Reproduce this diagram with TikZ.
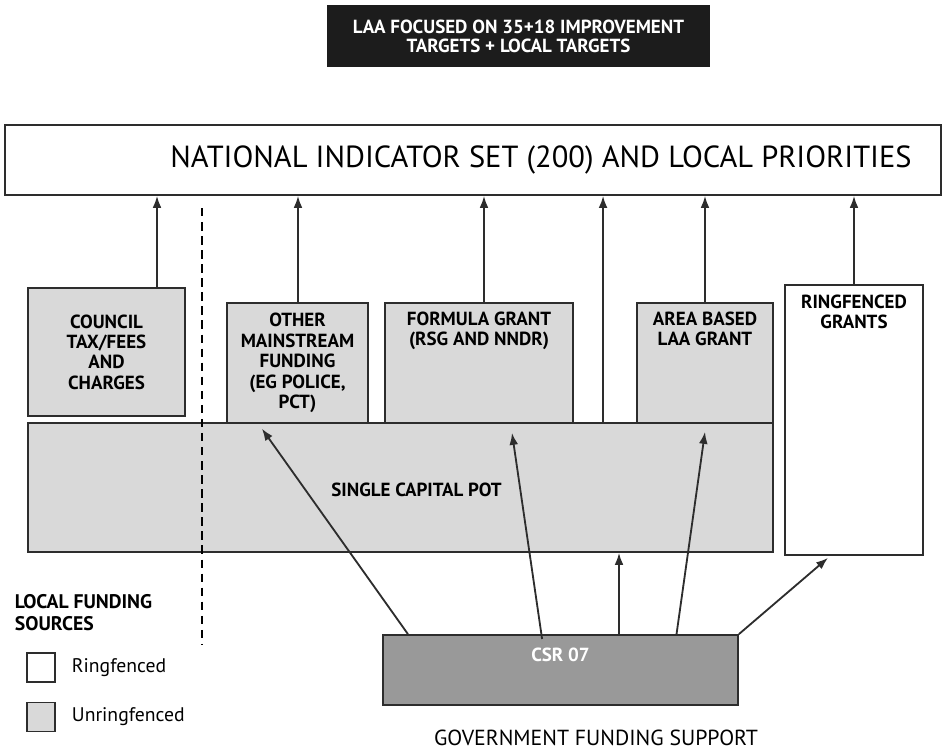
\documentclass[tikz,border=0pt]{standalone}
\usepackage{fontspec}
\setmainfont{PT Sans}
\usepackage{tikz}
\usetikzlibrary{arrows.meta,positioning,calc}
\definecolor{fgGrey}   {RGB}{217,217,217}
\definecolor{fgGreyD}  {RGB}{153,153,153}
\definecolor{fgBlack}  {RGB}{ 28, 28, 28}
\definecolor{fgLine}   {RGB}{ 45, 45, 45}

\begin{document}
\begin{tikzpicture}[
  x=0.025cm, y=-0.025cm,
  >={Latex[length=3mm,width=2.2mm]},
  every node/.style={font=\fontsize{13.5}{14.5}\selectfont\bfseries},
  fund/.style ={draw=fgLine,fill=fgGrey,line width=1.2pt,align=center,
                inner sep=0pt},
  ring/.style ={draw=fgLine,fill=white,line width=1.2pt,align=center,
                inner sep=0pt},
  boxtxt/.style={anchor=north,align=center,yshift=-3.5pt},
  up/.style   ={->,line width=1.3pt,fgLine}
]
\useasboundingbox (0,0) rectangle (943,750);

\node[fill=fgBlack,text=white,minimum width=9.575cm,minimum height=1.55cm,
      align=center,font=\fontsize{13.5}{13.5}\selectfont\bfseries]
  (laa) at (518.5,36) {LAA FOCUSED ON 35+18 IMPROVEMENT\\TARGETS + LOCAL TARGETS};

\node[ring,minimum width=23.4cm,minimum height=1.75cm] (nis) at (473,160) {};
\node[font=\fontsize{21.7}{24}\selectfont] at ([xshift=1.7cm]nis.center)
  {NATIONAL INDICATOR SET (200) AND LOCAL PRIORITIES};

\node[fund,minimum width=3.925cm,minimum height=3.2cm] (ctax) at (106.5,352)
  {COUNCIL\\TAX/FEES\\AND\\CHARGES};
\node[fund,minimum width=3.525cm,minimum height=3cm] (other) at (297.5,363)
  {OTHER\\MAINSTREAM\\FUNDING\\(EG POLICE,\\PCT)};
\node[fund,minimum width=4.7cm,minimum height=3cm] (formula) at (479,363) {};
\node[boxtxt] at (formula.north) {FORMULA GRANT\\(RSG AND NNDR)};
\node[fund,minimum width=3.4cm,minimum height=3cm] (area) at (705,363) {};
\node[boxtxt] at (area.north) {AREA BASED\\LAA GRANT};
\node[ring,minimum width=3.45cm,minimum height=6.75cm] (rgrant) at (854,420) {};
\node[boxtxt,yshift=-0.5pt] at (rgrant.north) {RINGFENCED\\GRANTS};

\node[fund,minimum width=18.625cm,minimum height=3.225cm] (pot) at (400.5,487.5) {};
\node at ([xshift=0.4cm,yshift=-0.05cm]pot.center) {SINGLE CAPITAL POT};

\node[fund,fill=fgGreyD,minimum width=8.875cm,minimum height=1.75cm] (csr) at (560.5,670) {};
\node[boxtxt,text=white,yshift=-3pt] at (csr.north) {CSR 07};

\node[font=\fontsize{15.5}{17}\selectfont] (gov) at (596,738) {GOVERNMENT FUNDING SUPPORT};

% legend
\node[anchor=west,align=left,font=\fontsize{14}{15.5}\selectfont\bfseries]
  (lfs) at (10,613) {LOCAL FUNDING\\SOURCES};
\node[ring,line width=1pt,minimum width=0.7cm,minimum height=0.725cm] (keyr) at (41,667.5) {};
\node[right=8pt of keyr,font=\fontsize{14}{15}\selectfont] (keyrt) {Ringfenced};
\node[fund,line width=1pt,minimum width=0.7cm,minimum height=0.725cm] (keyu) at (41,717) {};
\node[right=8pt of keyu,font=\fontsize{14}{15}\selectfont] (keyut) {Unringfenced};

% local / government divide
\draw[line width=1pt,dash pattern=on 6pt off 4pt] (202,208) -- (202,645);

% up to the indicator set
\foreach \b/\s in {ctax/1.2625cm,other/0.0125cm,formula/0.125cm,area/0cm,rgrant/0cm}
  \draw[up] ([xshift=\s]\b.north) -- ([xshift=\s]\b.north |- nis.south);
\coordinate (potup) at ([xshift=5.0625cm]pot.north);
\draw[up] (potup) -- (potup |- nis.south);

% csr 07 flows
\draw[up] ([xshift=-3.8125cm]csr.north) -- ([xshift=-0.89cm,yshift=-0.12cm]other.south);
\draw[up] ([xshift=-0.46cm,yshift=-0.12cm]csr.north) -- ([xshift=0.825cm,yshift=-0.225cm]formula.south);
\coordinate (csrup) at ([xshift=1.4625cm]csr.north);
\draw[up] (csrup) -- (csrup |- pot.south);
\draw[up] ([xshift=2.9cm]csr.north) -- ([yshift=-0.2cm]area.south);
\draw[up] (csr.north east) -- ([xshift=-0.65cm,yshift=-0.05cm]rgrant.south);
\end{tikzpicture}
\end{document}
